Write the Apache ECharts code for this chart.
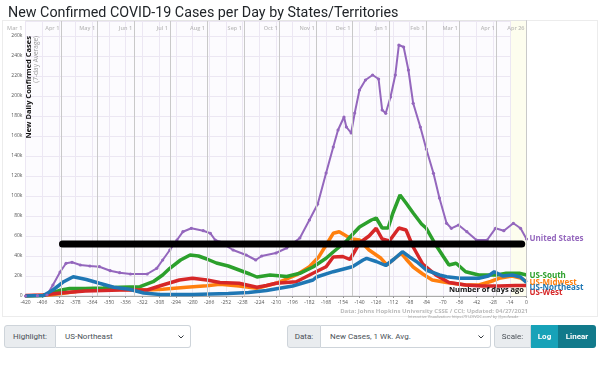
<!DOCTYPE html>
<html><head><meta charset="utf-8">
<script src="https://cdn.jsdelivr.net/npm/echarts@6/dist/echarts.min.js"></script>
<style>
body{margin:0;background:#fff;}
#frame{position:absolute;left:2px;top:20px;width:596px;height:297px;border:1px solid #ececec;box-sizing:border-box;}
#chart{position:absolute;left:0;top:0;width:600px;height:386px;}
.grp{position:absolute;top:325px;height:23px;display:flex;font-family:Roboto,"Liberation Sans",sans-serif;font-size:8px;color:#495057;}
.lab{background:#e9ecef;border:1px solid #ced4da;box-sizing:border-box;display:flex;align-items:center;justify-content:center;border-radius:3px 0 0 3px;}
.sel{background:#fff;border:1px solid #ced4da;border-left:none;box-sizing:border-box;display:flex;align-items:center;padding-left:9px;border-radius:0 3px 3px 0;position:relative;}
.sel svg{position:absolute;right:6px;top:9px;}
.btn{display:flex;align-items:center;justify-content:center;color:#fff;font-weight:bold;box-sizing:border-box;}
</style></head>
<body>
<div id="frame"></div>
<div id="chart"></div>
<div class="grp" style="left:4px;">
  <div class="lab" style="width:52px;">Highlight:</div>
  <div class="sel" style="width:135px;">US-Northeast<svg width="6" height="4" viewBox="0 0 6 4"><polyline points="0.5,0.5 3,3 5.5,0.5" fill="none" stroke="#343a40" stroke-width="1"/></svg></div>
</div>
<div class="grp" style="left:287px;">
  <div class="lab" style="width:34px;">Data:</div>
  <div class="sel" style="width:170px;">New Cases, 1 Wk. Avg.<svg width="6" height="4" viewBox="0 0 6 4"><polyline points="0.5,0.5 3,3 5.5,0.5" fill="none" stroke="#343a40" stroke-width="1"/></svg></div>
</div>
<div class="grp" style="left:494px;">
  <div class="lab" style="width:37px;">Scale:</div>
  <div class="btn" style="width:27px;background:#17a2b8;">Log</div>
  <div class="btn" style="width:38px;background:#117a8b;border-radius:0 3px 3px 0;">Linear</div>
</div>
<script>
// ---- axis settings ----
const dayMin = -420, dayMax = 0, dayInterval = 14;
const caseMax = 275000, caseInterval = 20000;

// ---- month markers (day offsets relative to Apr 26, 2021) ----
const monthDays  = [-421, -390, -360, -329, -299, -268, -237, -207, -176, -146, -115, -84, -56, -25, 0];
const monthNames = ['Mar 1','Apr 1','May 1','Jun 1','Jul 1','Aug 1','Sep 1','Oct 1','Nov 1','Dec 1','Jan 1','Feb 1','Mar 1','Apr 1','Apr 26'];
const recentPeriod = [-13, 0];

// ---- series: [days ago, new cases (7-day avg)] ----
const unitedStates = [[-420,0],[-410,300],[-402,1000],[-397,11000],[-391,24000],[-386,32700],[-381,33700],[-374,31000],[-366,30000],[-358,29300],[-349,25300],[-341,23300],[-332,22000],[-318,22000],[-310,27700],[-305,36000],[-299,46000],[-293,56000],[-288,64300],[-281,67700],[-271,65300],[-265,62700],[-261,56000],[-257,54000],[-246,46000],[-235,41000],[-227,36000],[-222,40000],[-210,43000],[-201,48000],[-190,58000],[-182,76000],[-175,92000],[-168,123000],[-162,149000],[-158,166000],[-153,179000],[-151,169000],[-147,163000],[-144,183000],[-140,206000],[-135,216000],[-129,221000],[-124,217000],[-121,186000],[-118,182700],[-114,199000],[-110,221000],[-107,251000],[-103,249000],[-99,226000],[-95,192700],[-89,169000],[-84,147000],[-78,122700],[-73,98000],[-67,72700],[-63,67700],[-57,71000],[-50,64300],[-42,56000],[-33,56000],[-26,67700],[-19,65300],[-11,72700],[-5,67700],[0,57000]];
const usSouth = [[-420,0],[-405,500],[-398,3000],[-390,6000],[-383,7500],[-370,7500],[-355,8000],[-341,8700],[-324,9300],[-313,14300],[-305,21000],[-299,27700],[-290,36000],[-282,41000],[-275,40000],[-268,37000],[-260,33000],[-250,30000],[-241,26000],[-232,22000],[-226,19000],[-215,21000],[-201,19500],[-190,22700],[-179,29000],[-168,37700],[-162,44000],[-151,55000],[-140,69000],[-130,76000],[-126,78000],[-121,68000],[-116,68000],[-112,83000],[-106,101000],[-101,93000],[-95,83000],[-88,72000],[-84,67700],[-76,51000],[-70,40000],[-65,31000],[-59,32700],[-51,24300],[-40,21000],[-25,21000],[-17,22700],[-6,22700],[0,21000]];
const usMidwest = [[-420,0],[-400,1000],[-388,2700],[-369,6000],[-341,6700],[-318,6000],[-305,6700],[-285,8700],[-268,10300],[-257,11700],[-241,10000],[-226,7700],[-210,12700],[-193,21000],[-182,29300],[-174,39300],[-168,51000],[-162,62700],[-157,64300],[-151,60000],[-146,57000],[-140,56000],[-132,46000],[-122,37700],[-117,31000],[-110,38000],[-105,42700],[-101,37000],[-95,29000],[-87,22000],[-79,16000],[-67,13500],[-51,11000],[-40,11000],[-30,14500],[-23,17700],[-12,20000],[-5,18000],[0,14500]];
const usWest = [[-420,500],[-405,1000],[-395,2500],[-388,3300],[-370,5000],[-355,5500],[-341,6000],[-318,6000],[-305,11000],[-291,16000],[-280,17700],[-268,16000],[-257,13500],[-241,12700],[-226,8700],[-218,10500],[-210,12700],[-193,14300],[-179,22700],[-168,29300],[-162,39000],[-154,39500],[-148,36500],[-140,53000],[-132,60000],[-126,67700],[-121,57000],[-115,55000],[-107,68000],[-101,66000],[-95,49000],[-87,32000],[-76,21000],[-65,13500],[-51,11000],[-37,10000],[-23,10000],[-9,10500],[0,10500]];
const usNortheast = [[-420,0],[-405,500],[-397,6000],[-388,14300],[-380,19300],[-369,16500],[-358,12700],[-346,8700],[-333,6700],[-321,3000],[-307,1500],[-280,1500],[-250,2500],[-233,3500],[-218,5500],[-196,10000],[-179,16000],[-176,19000],[-162,24300],[-146,29300],[-137,36000],[-134,37700],[-126,34500],[-118,30500],[-111,37000],[-104,44300],[-98,39000],[-92,34300],[-84,26000],[-73,21000],[-67,19300],[-56,17700],[-40,17700],[-32,20000],[-27,24300],[-20,20000],[-12,21000],[-5,19000],[0,13500]];
const thresholdLine = [[-389,52000],[-4,52000]];

const FONT = '"Open Sans", "DejaVu Sans", sans-serif';
const chart = echarts.init(document.getElementById('chart'), null, {renderer:'canvas'});

function region(name, data, color, dy) {
  return {
    name, type:'line', data, showSymbol:false, smooth:false,
    lineStyle:{width:3.5, color}, itemStyle:{color},
    endLabel:{show:true, formatter:name, color, fontFamily:FONT, fontWeight:'bold', fontSize:8, distance:3, offset:[0,dy]},
    emphasis:{disabled:true}, z:3
  };
}

chart.setOption({
  animation:false,
  title:{text:'New Confirmed COVID-19 Cases per Day by States/Territories', left:3, top:1,
    textStyle:{fontFamily:'Roboto, "Liberation Sans", sans-serif', fontSize:14.3, fontWeight:'normal', color:'#212529'}},
  grid:{left:25.5, right:73.5, top:21, bottom:90, show:true, backgroundColor:'#fcfbfe', borderColor:'#dddddd', borderWidth:1},
  xAxis:{type:'value', min:dayMin, max:dayMax, interval:dayInterval,
    axisLine:{show:true, onZero:false, lineStyle:{color:'#aaaaaa'}},
    axisTick:{show:true, length:2, lineStyle:{color:'#999'}},
    axisLabel:{fontSize:5, color:'#555', margin:4, fontFamily:FONT},
    splitLine:{show:true, lineStyle:{color:'#ece7f3', width:1}}},
  yAxis:{type:'value', min:0, max:caseMax, interval:caseInterval,
    axisLine:{show:true, lineStyle:{color:'#aaaaaa'}},
    axisTick:{show:true, length:2, lineStyle:{color:'#999'}},
    axisLabel:{fontSize:5, color:'#555', margin:3, fontFamily:FONT, showMaxLabel:false,
      formatter:v => v === 0 ? '0' : (v/1000) + 'k'},
    splitLine:{show:true, lineStyle:{color:'#ece7f3', width:1}}},
  series:[
    {name:'months', type:'scatter', symbolSize:0, clip:false, z:1, silent:true,
      data: monthDays.map((d,i) => [d, 267500, monthNames[i]]),
      label:{show:true, position:'left', distance:2, formatter:p => p.data[2], color:'#aaaaaa', fontSize:5.5, fontWeight:600, fontFamily:FONT},
      markArea:{silent:true, itemStyle:{color:'#fdfdee'}, data:[[{xAxis:recentPeriod[0]},{xAxis:recentPeriod[1]}]]},
      markLine:{silent:true, symbol:['none','none'], label:{show:false},
        lineStyle:{color:'#c9c9c9', width:1, type:'solid'},
        data: monthDays.slice(1).map(d => ({xAxis:d}))}
    },
    {name:'United States', type:'line', data:unitedStates, showSymbol:true, symbol:'circle', symbolSize:3.2,
      lineStyle:{width:2, color:'#9467bd'}, itemStyle:{color:'#9467bd'},
      endLabel:{show:true, formatter:'United States', color:'#9467bd', fontFamily:FONT, fontWeight:'bold', fontSize:8, distance:3},
      emphasis:{disabled:true}, z:3},
    region('US-Midwest', usMidwest, '#ff7f0e', 1.5),
    region('US-South', usSouth, '#2ca02c', 1),
    region('US-West', usWest, '#d62728', 7.5),
    region('US-Northeast', usNortheast, '#1f77b4', 5.5),
    {name:'threshold', type:'line', data:thresholdLine, showSymbol:false, silent:true,
      lineStyle:{width:7, color:'#000', cap:'round'}, z:5}
  ],
  graphic:[
    {type:'text', x:29, y:36, rotation:Math.PI/2, z:10,
      style:{text:'New Daily Confirmed Cases', fill:'#111', font:'bold 7.5px ' + FONT, align:'right', verticalAlign:'middle'}},
    {type:'text', x:36, y:36, rotation:Math.PI/2, z:10,
      style:{text:'(7-day Average)', fill:'#999', font:'6.5px ' + FONT, align:'right', verticalAlign:'middle'}},
    {type:'text', x:524, y:290, z:10,
      style:{text:'Number of days ago', fill:'#111', font:'bold 7.5px ' + FONT, align:'right', verticalAlign:'middle'}},
    {type:'text', x:528, y:311, z:10,
      style:{text:'Data: Johns Hopkins University CSSE / CCI; Updated: 04/27/2021', fill:'#bbbbbb', font:'bold 6px ' + FONT, align:'right', verticalAlign:'middle'}},
    {type:'text', x:520, y:317, z:10,
      style:{text:'Interactive Visualization: https://91-DIVOC.com/ by @profwade_', fill:'#999999', font:'3.8px ' + FONT, align:'right', verticalAlign:'middle'}}
  ]
});
</script>
</body></html>
